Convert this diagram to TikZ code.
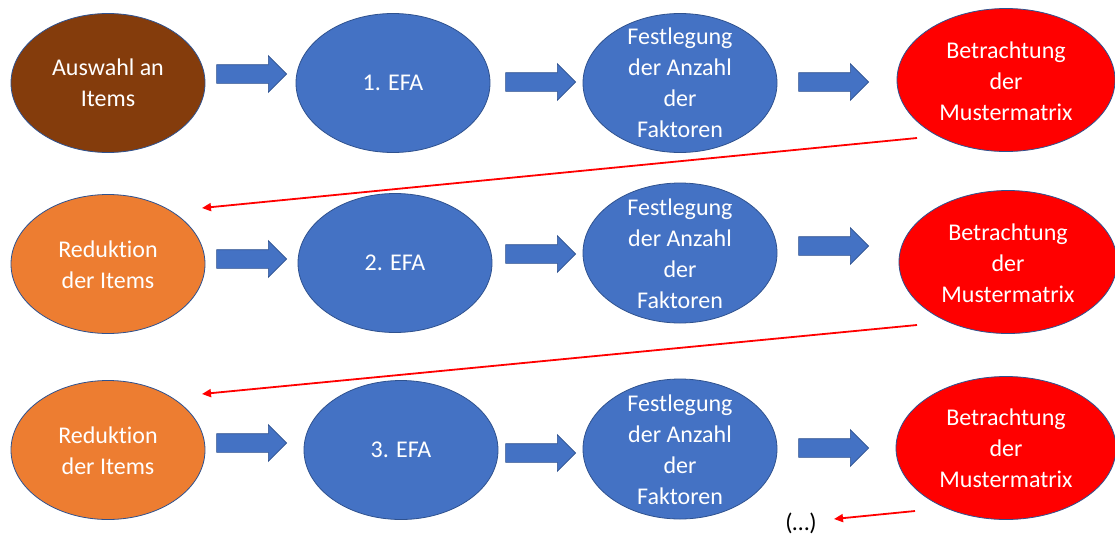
\documentclass[tikz,border=0pt]{standalone}
\usepackage{fontspec}
\setmainfont{Carlito}[Ligatures=NoCommon]
\usetikzlibrary{shapes.geometric,shapes.arrows,arrows.meta}
\definecolor{cbrown}{HTML}{843C0C}
\definecolor{cblue}{HTML}{4472C4}
\definecolor{corange}{HTML}{ED7D31}
\definecolor{cred}{HTML}{FF0000}
\definecolor{cedge}{HTML}{2F528F}
\tikzset{
  oval/.style={ellipse, draw=cedge, line width=0.8pt, inner sep=0pt,
    minimum width=194pt, minimum height=139pt},
  redoval/.style={oval, fill=cred, minimum width=218pt, minimum height=143pt},
  txt/.style={text=white, align=center, inner sep=0pt,
    font=\fontsize{24}{31}\selectfont},
  blockarrow/.style={single arrow, draw=cedge, line width=0.6pt, fill=cblue,
    inner xsep=0pt, inner ysep=9pt, minimum height=70pt, minimum width=36pt,
    single arrow head extend=9pt},
  redline/.style={draw=cred, line width=1.8pt,
    -{Triangle[length=9pt,width=8pt]}},
}
\begin{document}
\begin{tikzpicture}[x=1pt,y=-1pt]
\useasboundingbox[fill=white] (0,0) rectangle (1115,536);
% row 1
\node[oval, fill=cbrown] (a1) at (108,83) {};
\node[txt] (a1t) at (a1) {Auswahl an\\Items};
\node[blockarrow] (p11) at (247,74) {};
\node[oval, fill=cblue] (b1) at (393,83) {};
\node[txt] (b1t) at (b1) {1. EFA};
\node[blockarrow] (p12) at (536,82) {};
\node[oval, fill=cblue] (c1) at (680,83) {};
\node[txt] (c1t) at (c1) {Festlegung\\der Anzahl\\der\\Faktoren};
\node[blockarrow] (p13) at (829,82) {};
\node[redoval] (d1) at (1006,80) {};
\node[txt] (d1t) at (1006,81) {Betrachtung\\der\\Mustermatrix};
% row 2
\node[oval, fill=corange] (a2) at (108,264) {};
\node[txt] (a2t) at (108,265) {Reduktion\\der Items};
\node[blockarrow] (p21) at (247,259) {};
\node[oval, fill=cblue] (b2) at (395,263) {};
\node[txt] (b2t) at (b2) {2. EFA};
\node[blockarrow] (p22) at (536,254) {};
\node[oval, fill=cblue, minimum height=140pt] (c2) at (680,253) {};
\node[txt] (c2t) at (680,254) {Festlegung\\der Anzahl\\der\\Faktoren};
\node[blockarrow] (p23) at (829,246) {};
\node[redoval] (d2) at (1008,262) {};
\node[txt] (d2t) at (1008,263) {Betrachtung\\der\\Mustermatrix};
% row 3
\node[oval, fill=corange] (a3) at (108,450) {};
\node[txt] (a3t) at (108,451) {Reduktion\\der Items};
\node[blockarrow] (p31) at (247,443) {};
\node[oval, fill=cblue] (b3) at (401,450) {};
\node[txt] (b3t) at (b3) {3. EFA};
\node[blockarrow] (p32) at (536,453) {};
\node[oval, fill=cblue, minimum height=140pt] (c3) at (680,449) {};
\node[txt] (c3t) at (680,450) {Festlegung\\der Anzahl\\der\\Faktoren};
\node[blockarrow] (p33) at (829,448) {};
\node[redoval, minimum width=220pt] (d3) at (1006,448) {};
\node[txt] (d3t) at (1006,448) {Betrachtung\\der\\Mustermatrix};
\node[txt, text=black] (more) at (801,523) {(…)};
% red return connectors
\coordinate (s1) at (917,138);
\coordinate (e1) at (202,208);
\coordinate (s2) at (917,325);
\coordinate (e2) at (202,394);
\coordinate (s3) at (915,511);
\coordinate (e3) at (834,519);
\draw[redline] (s1) -- (e1);
\draw[redline] (s2) -- (e2);
\draw[redline] (s3) -- (e3);
\end{tikzpicture}
\end{document}
